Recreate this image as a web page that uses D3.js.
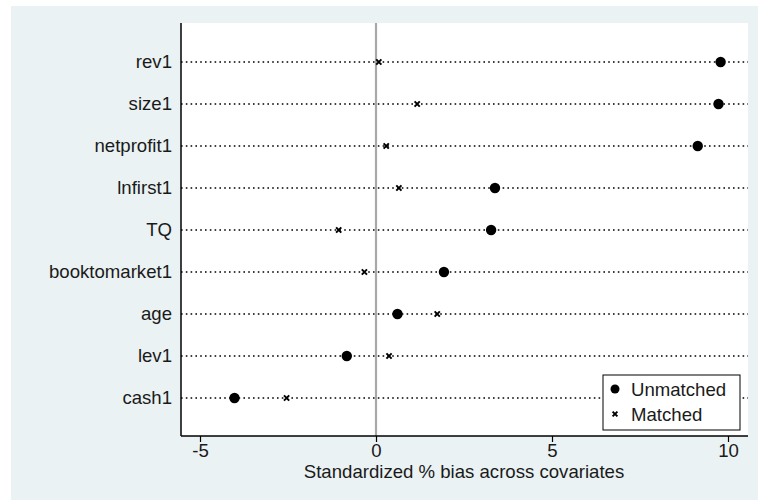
<!DOCTYPE html>
<html><head><meta charset="utf-8">
<script src="https://cdn.jsdelivr.net/npm/d3@7"></script>
<style>body{margin:0;background:#fff}svg{display:block}text{font-family:"Liberation Sans",Arial,sans-serif;fill:#1a1a1a}</style>
</head><body>
<svg id="c" width="758" height="501"></svg>
<script>
const categories = ["rev1","size1","netprofit1","lnfirst1","TQ","booktomarket1","age","lev1","cash1"];
const unmatched = [9.79, 9.73, 9.14, 3.38, 3.27, 1.93, 0.61, -0.83, -4.02];
const matched   = [0.08, 1.17, 0.29, 0.65, -1.06, -0.33, 1.74, 0.37, -2.54];
const xTicks = [-5, 0, 5, 10];
const seriesNames = ["Unmatched", "Matched"];
const xTitle = "Standardized % bias across covariates";

const FS = 18.6;
const svg = d3.select("#c");
const W = 758, H = 501;
svg.append("rect").attr("x",11).attr("y",6).attr("width",W-11).attr("height",494).attr("fill","#eaf2f3");
const L = 181, R = 748, T = 23, B = 436;
svg.append("rect").attr("x",L).attr("y",T).attr("width",R-L).attr("height",B-T).attr("fill","#fff");

const x = d3.scaleLinear().domain([0,5]).range([376,552]);
const y = d3.scalePoint().domain(categories).range([62,398]);

// dotted lines
svg.append("g").selectAll("line").data(categories).join("line")
  .attr("x1",L).attr("x2",R).attr("y1",d=>y(d)).attr("y2",d=>y(d))
  .attr("stroke","#000").attr("stroke-width",1.6).attr("stroke-dasharray","1.6,3.2");

// zero line
svg.append("line").attr("x1",x(0)).attr("x2",x(0)).attr("y1",T).attr("y2",B)
  .attr("stroke","#a8a8a8").attr("stroke-width",2.2);

// axes
const xa = svg.append("g").attr("transform",`translate(0,${B})`)
  .call(d3.axisBottom(x).tickValues(xTicks).tickSize(6).tickPadding(2).tickFormat(d => String(d)));
xa.select(".domain").attr("d",`M${L},0H${R}`).attr("stroke","#000").attr("stroke-width",1.5);
xa.selectAll(".tick line").attr("stroke","#000").attr("stroke-width",1.2);
xa.selectAll(".tick text").attr("font-size",FS).attr("font-family","Liberation Sans, Arial").attr("fill","#1a1a1a");

const ya = svg.append("g").attr("transform",`translate(${L},0)`)
  .call(d3.axisLeft(y).tickSize(0).tickPadding(9));
ya.select(".domain").attr("d",`M0,${T}V${B}`).attr("stroke","#000").attr("stroke-width",1.5);
ya.selectAll(".tick text").attr("font-size",FS).attr("font-family","Liberation Sans, Arial").attr("fill","#1a1a1a");

svg.append("text").attr("x",(x(-5)+x(10))/2).attr("y",478).attr("text-anchor","middle")
  .attr("font-size",FS).text(xTitle);

// markers
const xpath = s => `M${-s},${-s}L${s},${s}M${-s},${s}L${s},${-s}`;
svg.append("g").selectAll("circle").data(categories).join("circle")
  .attr("cx",(d,i)=>x(unmatched[i])).attr("cy",d=>y(d)).attr("r",5.2).attr("fill","#000");
svg.append("g").selectAll("path").data(categories).join("path")
  .attr("transform",(d,i)=>`translate(${x(matched[i])},${y(d)})`)
  .attr("d",xpath(2.6)).attr("stroke","#000").attr("stroke-width",2);

// legend
const lg = svg.append("g");
lg.append("rect").attr("x",603).attr("y",375).attr("width",137).attr("height",55)
  .attr("fill","#fff").attr("stroke","#000").attr("stroke-width",1);
lg.append("circle").attr("cx",615).attr("cy",389).attr("r",4.5).attr("fill","#000");
lg.append("path").attr("transform","translate(615,414)").attr("d",xpath(2.4)).attr("stroke","#000").attr("stroke-width",2);
lg.append("text").attr("x",631).attr("y",389).attr("dy","0.35em").attr("font-size",FS).text(seriesNames[0]);
lg.append("text").attr("x",631).attr("y",414).attr("dy","0.35em").attr("font-size",FS).text(seriesNames[1]);
</script>
</body></html>
